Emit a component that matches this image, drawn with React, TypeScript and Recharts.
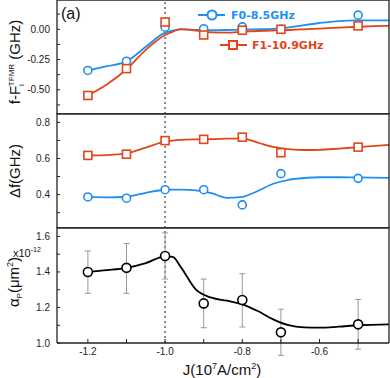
import React from 'react';
import { ComposedChart, Line, Scatter, XAxis, YAxis, ReferenceLine, ErrorBar, Legend } from 'recharts';

// measured points
const jValues = [-1.2, -1.1, -1.0, -0.9, -0.8, -0.7, -0.5];
const shiftF0 = [-0.34, -0.264, 0.017, 0.005, 0.02, 0.0, 0.117];
const shiftF1 = [-0.547, -0.325, 0.06, -0.047, -0.008, 0.0, 0.028];
const widthF0 = [0.387, 0.38, 0.427, 0.427, 0.343, 0.516, 0.49];
const widthF1 = [0.617, 0.624, 0.699, 0.706, 0.718, 0.632, 0.663];
const alphaP = [1.4, 1.423, 1.49, 1.223, 1.242, 1.06, 1.105];
const alphaErrLow = [0.12, 0.143, 0.13, 0.137, 0.152, 0.13, 0.14];
const alphaErrHigh = [0.118, 0.137, 0.13, 0.137, 0.148, 0.13, 0.14];

// fit curves
const fitJ = [-1.2, -1.15, -1.1, -1.05, -1.0, -0.98, -0.96, -0.92, -0.88, -0.84, -0.8, -0.76, -0.72, -0.68, -0.64, -0.6, -0.55, -0.5, -0.42];
const fitShiftF0 = [-0.34, -0.305, -0.265, -0.145, -0.028, -0.01, 0.0, -0.005, -0.008, -0.006, -0.002, 0.0, 0.004, 0.015, 0.035, 0.052, 0.068, 0.073, 0.074];
const fitShiftF1 = [-0.547, -0.455, -0.33, -0.17, -0.047, -0.02, 0.002, -0.01, -0.026, -0.028, -0.02, -0.014, -0.01, -0.006, 0.0, 0.006, 0.014, 0.021, 0.029];
const fitWidthF0 = [0.387, 0.385, 0.388, 0.41, 0.427, 0.428, 0.428, 0.423, 0.408, 0.382, 0.388, 0.42, 0.46, 0.482, 0.492, 0.496, 0.496, 0.495, 0.493];
const fitWidthF1 = [0.617, 0.619, 0.628, 0.66, 0.693, 0.699, 0.703, 0.706, 0.707, 0.71, 0.712, 0.688, 0.664, 0.652, 0.647, 0.648, 0.655, 0.663, 0.675];
const fitAlpha = [1.4, 1.41, 1.423, 1.45, 1.488, 1.485, 1.43, 1.3, 1.255, 1.238, 1.218, 1.18, 1.133, 1.1, 1.088, 1.086, 1.092, 1.1, 1.105];

const xTicks = [-1.2, -1.1, -1.0, -0.9, -0.8, -0.7, -0.6, -0.5];
const xLabels = ['-1.2', '-1.0', '-0.8', '-0.6'];
const seriesNames = ['F0-8.5GHz', 'F1-10.9GHz'];

const BLUE = '#1f8ff0';
const RED = '#e0461a';
const AXIS = '#222';
const xDomain: [number, number] = [-1.28, -0.42];

const pts = (ys: number[]) => jValues.map((x, i) => ({ x, y: ys[i] }));
const fit = (ys: number[]) => fitJ.map((x, i) => ({ x, y: ys[i] }));
const alphaPts = jValues.map((x, i) => ({ x, y: alphaP[i], err: [alphaErrLow[i], alphaErrHigh[i]] }));

const circle = (color: string, r = 4) => (p: any) => (
  <circle cx={p.cx} cy={p.cy} r={r} fill="#fff" stroke={color} strokeWidth={1.6} />
);
const square = (color: string) => (p: any) => (
  <rect x={p.cx - 4} y={p.cy - 4} width={8} height={8} fill="#fff" stroke={color} strokeWidth={1.6} />
);

const LegendBox = () => (
  <svg width={150} height={52}>
    <line x1={2} y1={11} x2={29} y2={11} stroke={BLUE} strokeWidth={2} />
    <circle cx={16} cy={11} r={4.5} fill="#fff" stroke={BLUE} strokeWidth={2} />
    <text x={35} y={15} fill={BLUE} fontSize={11} fontWeight="bold" fontFamily="DejaVu Sans">{seriesNames[0]}</text>
    <line x1={24} y1={41} x2={51} y2={41} stroke={RED} strokeWidth={2} />
    <rect x={33} y={37} width={8} height={8} fill="#fff" stroke={RED} strokeWidth={2} />
    <text x={56} y={45} fill={RED} fontSize={11} fontWeight="bold" fontFamily="DejaVu Sans">{seriesNames[1]}</text>
  </svg>
);

const fmtX = (v: number) => {
  const s = v.toFixed(1);
  return xLabels.includes(s) ? s : '';
};

const axisLine = { stroke: AXIS, strokeWidth: 1.3 };
const tickLine = { stroke: AXIS, strokeWidth: 1 };

type PanelProps = {
  top: number;
  height: number;
  marginTop: number;
  domain: [number, number];
  yTicks: number[];
  fmtY: (v: number) => string;
  showX?: boolean;
  children: React.ReactNode;
};

function Panel({ top, height, marginTop, domain, yTicks, fmtY, showX, children }: PanelProps) {
  return (
    <div style={{ position: 'absolute', left: 0, top }}>
      <ComposedChart width={390} height={height} margin={{ top: marginTop, right: 1, bottom: 0, left: 0 }}>
        <XAxis
          xAxisId="b"
          dataKey="x"
          type="number"
          domain={xDomain}
          ticks={xTicks}
          allowDataOverflow
          height={showX ? 35 : 1}
          tickSize={-4}
          tickMargin={9}
          tick={showX ? { fontSize: 10, fill: AXIS } : false}
          tickFormatter={fmtX}
          axisLine={axisLine}
          tickLine={tickLine}
        />
        <XAxis
          xAxisId="t"
          orientation="top"
          dataKey="x"
          type="number"
          domain={xDomain}
          ticks={xTicks}
          allowDataOverflow
          height={1}
          mirror
          tickSize={4}
          tick={false}
          axisLine={axisLine}
          tickLine={tickLine}
        />
        <YAxis
          yAxisId="l"
          type="number"
          domain={domain}
          ticks={yTicks}
          allowDataOverflow
          width={57}
          tickSize={-3}
          tickMargin={10}
          tick={{ fontSize: 10, fill: AXIS }}
          tickFormatter={fmtY}
          axisLine={axisLine}
          tickLine={tickLine}
        />
        <YAxis
          yAxisId="r"
          orientation="right"
          type="number"
          domain={domain}
          ticks={yTicks}
          allowDataOverflow
          width={1}
          mirror
          tickSize={3}
          tick={false}
          axisLine={axisLine}
          tickLine={tickLine}
        />
        <ReferenceLine xAxisId="b" yAxisId="l" x={-1.0} stroke="#888" strokeWidth={2} strokeDasharray="2 3" />
        {children}
      </ComposedChart>
    </div>
  );
}

const twoDec = (v: number) => (Math.abs(Math.round(v * 100)) % 25 === 0 ? v.toFixed(2) : '');
const evenOne = (v: number) => (Math.round(v * 10) % 2 === 0 ? v.toFixed(1) : '');

export default function App() {
  return (
    <div style={{ position: 'absolute', left: 0, top: 0, width: 390, height: 378, background: '#fff', fontFamily: '"Liberation Sans", Arial, sans-serif' }}>
      <Panel top={0} height={115} marginTop={0} domain={[-0.7, 0.242]} yTicks={[-0.625, -0.5, -0.375, -0.25, -0.125, 0, 0.125]} fmtY={twoDec}>
        <Line xAxisId="b" yAxisId="l" data={fit(fitShiftF0)} dataKey="y" type="monotone" stroke={BLUE} strokeWidth={1.8} dot={false} isAnimationActive={false} />
        <Line xAxisId="b" yAxisId="l" data={fit(fitShiftF1)} dataKey="y" type="monotone" stroke={RED} strokeWidth={1.8} dot={false} isAnimationActive={false} />
        <Scatter xAxisId="b" yAxisId="l" data={pts(shiftF0)} dataKey="y" shape={circle(BLUE)} isAnimationActive={false} />
        <Scatter xAxisId="b" yAxisId="l" data={pts(shiftF1)} dataKey="y" shape={square(RED)} isAnimationActive={false} />
        <Legend layout="horizontal" verticalAlign="middle" align="center" wrapperStyle={{ position: 'absolute', top: 4, left: 196, width: 150, height: 52 }} content={() => <LegendBox />} />
      </Panel>
      <Panel top={113} height={116} marginTop={0} domain={[0.215, 0.852]} yTicks={[0.3, 0.4, 0.5, 0.6, 0.7, 0.8]} fmtY={evenOne}>
        <Line xAxisId="b" yAxisId="l" data={fit(fitWidthF0)} dataKey="y" type="monotone" stroke={BLUE} strokeWidth={1.8} dot={false} isAnimationActive={false} />
        <Line xAxisId="b" yAxisId="l" data={fit(fitWidthF1)} dataKey="y" type="monotone" stroke={RED} strokeWidth={1.8} dot={false} isAnimationActive={false} />
        <Scatter xAxisId="b" yAxisId="l" data={pts(widthF0)} dataKey="y" shape={circle(BLUE)} isAnimationActive={false} />
        <Scatter xAxisId="b" yAxisId="l" data={pts(widthF1)} dataKey="y" shape={square(RED)} isAnimationActive={false} />
      </Panel>
      <Panel top={227} height={151} marginTop={0} domain={[1.0, 1.653]} yTicks={[1.0, 1.1, 1.2, 1.3, 1.4, 1.5, 1.6]} fmtY={evenOne} showX>
        <Scatter xAxisId="b" yAxisId="l" data={alphaPts} dataKey="y" shape={() => <g />} isAnimationActive={false}>
          <ErrorBar dataKey="err" direction="y" width={3} stroke="#999" strokeWidth={1} isAnimationActive={false} />
        </Scatter>
        <Line xAxisId="b" yAxisId="l" data={fit(fitAlpha)} dataKey="y" type="monotone" stroke="#000" strokeWidth={1.8} dot={false} isAnimationActive={false} />
        <Scatter xAxisId="b" yAxisId="l" data={alphaPts} dataKey="y" shape={circle('#000', 4.5)} isAnimationActive={false} />
      </Panel>
      <svg width={390} height={378} style={{ position: 'absolute', left: 0, top: 0, pointerEvents: 'none' }} fontFamily='"Liberation Sans", Arial, sans-serif' fill="#111">
        <text x={61} y={19} fontSize={16}>(a)</text>
        <text transform="translate(20,62) rotate(-90)" textAnchor="middle" fontSize={15}>
          f-F<tspan fontSize={8} dy={4}>i</tspan><tspan fontSize={8} dx={-2} dy={-10}>TFMR</tspan><tspan dy={6}> (GHz)</tspan>
        </text>
        <text transform="translate(20,171) rotate(-90)" textAnchor="middle" fontSize={15}>Δf(GHz)</text>
        <text transform="translate(19,282) rotate(-90)" textAnchor="middle" fontSize={15}>
          α<tspan fontSize={8} dy={3}>P</tspan><tspan dy={-3}>(μm</tspan><tspan fontSize={9} dy={-6}>2</tspan><tspan dy={6}>)</tspan>
        </text>
        <text x={13} y={257} fontSize={11}>x10<tspan fontSize={7} dy={-5}>-12</tspan></text>
        <text x={222} y={375} textAnchor="middle" fontSize={15}>
          J(10<tspan fontSize={9} dy={-6}>7</tspan><tspan dy={6}>A/cm</tspan><tspan fontSize={9} dy={-6}>2</tspan><tspan dy={6}>)</tspan>
        </text>
      </svg>
    </div>
  );
}
